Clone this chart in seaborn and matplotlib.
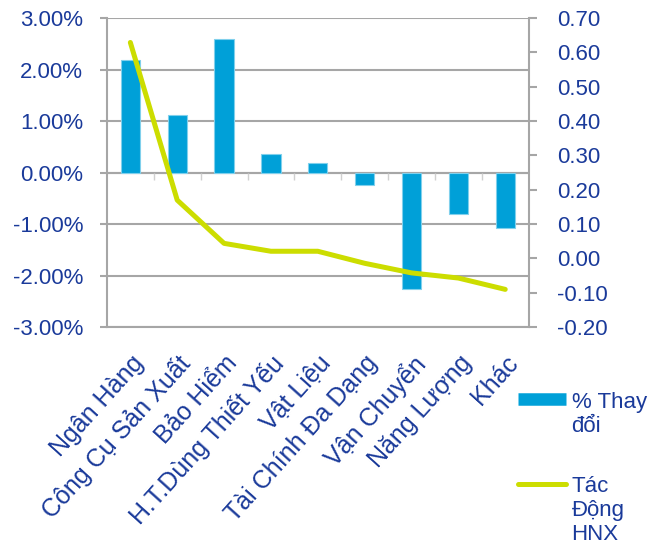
import numpy as np
import pandas as pd
import matplotlib
matplotlib.use("Agg")
import matplotlib.pyplot as plt
import seaborn as sns
from matplotlib.lines import Line2D

# ---------------- dữ liệu ----------------
nganh = ["Ngân Hàng", "Công Cụ Sản Xuất", "Bảo Hiểm", "H.T.Dùng Thiết Yếu",
         "Vật Liệu", "Tài Chính Đa Dạng", "Vận Chuyển", "Năng Lượng", "Khác"]
thay_doi = [2.18, 1.11, 2.60, 0.37, 0.19, -0.25, -2.26, -0.81, -1.08]   # %
tac_dong = [0.629, 0.170, 0.044, 0.021, 0.021, -0.014, -0.042, -0.057, -0.090]

left_ticks = [-3, -2, -1, 0, 1, 2, 3]
right_ticks = [-0.2, -0.1, 0.0, 0.1, 0.2, 0.3, 0.4, 0.5, 0.6, 0.7]

mau_chu = "#1A3A9A"
mau_cot = "#00A0D8"
mau_duong = "#CCDD00"
mau_luoi = "#A6A6A6"
co_chu = 16

df = pd.DataFrame({"nganh": nganh, "thay_doi": thay_doi, "tac_dong": tac_dong})

sns.set_theme(style="white")
plt.rcParams["font.family"] = ["Liberation Sans", "DejaVu Sans"]

fig = plt.figure(figsize=(6.6, 5.48), dpi=100)
ax = fig.add_axes([0.162, 0.403, 0.639, 0.564])

sns.barplot(data=df, x="nganh", y="thay_doi", color=mau_cot, width=0.41,
            saturation=1, edgecolor="#80D0EC", linewidth=0.8, ax=ax, zorder=3)

ax.set_ylim(-3, 3)
ax.set_yticks(left_ticks)
ax.set_yticklabels([f"{v:.2f}%" for v in left_ticks])
ax.set_xlim(-0.5, len(nganh) - 0.5)
ax.yaxis.grid(True, color=mau_luoi, linewidth=1.5, zorder=0)
ax.set_axisbelow(True)
ax.axhline(0, color=mau_luoi, linewidth=1.5, zorder=2)
# vạch chia nhóm dưới trục 0
ax.vlines(np.arange(0.5, len(nganh) - 0.5), -0.14, 0, color="#D0D0D0", linewidth=1, zorder=2)

for s in ["left", "right", "bottom"]:
    ax.spines[s].set_color(mau_luoi)
    ax.spines[s].set_linewidth(1.5)
ax.spines["top"].set_visible(False)

ax.set_xlabel("")
ax.set_ylabel("")
ax.tick_params(axis="y", colors=mau_luoi, labelcolor=mau_chu, labelsize=co_chu,
               left=True, length=5, width=1.5, pad=12)
ax.tick_params(axis="x", bottom=False, labelcolor=mau_chu, labelsize=18, pad=11)
ax.set_xticks(range(len(nganh)))
ax.set_xticklabels(nganh, rotation=48, ha="right", va="top", rotation_mode="anchor")

ax2 = ax.twinx()
ax2.plot(range(len(nganh)), df["tac_dong"], color=mau_duong, linewidth=3.6,
         solid_capstyle="round", zorder=4)
ax2.set_ylim(-0.2, 0.7)
ax2.set_yticks(right_ticks)
ax2.set_yticklabels([f"{v:.2f}" for v in right_ticks])
ax2.tick_params(axis="y", colors=mau_luoi, labelcolor=mau_chu, labelsize=co_chu,
                right=True, length=5.5, width=1.5, pad=15)
ax2.grid(False)
for s in ax2.spines.values():
    s.set_visible(False)

# chú thích: ký hiệu canh theo dòng đầu của nhãn
handles = [Line2D([0], [0], color=mau_cot, linewidth=9, solid_capstyle="butt"),
           Line2D([0], [0], color=mau_duong, linewidth=3.6, solid_capstyle="round")]
leg = fig.legend(handles, ["% Thay\nđổi", "Tác\nĐộng\nHNX"], loc="upper left",
                 bbox_to_anchor=(0.771, 0.3015), frameon=False, fontsize=co_chu,
                 labelcolor=mau_chu, handlelength=2.17, handleheight=0.7,
                 handletextpad=0.25, labelspacing=1.75, borderaxespad=0)
for cot in leg._legend_handle_box.get_children():
    for dong in cot.get_children():
        dong.align = "top"

fig.savefig("out.png", dpi=100)
